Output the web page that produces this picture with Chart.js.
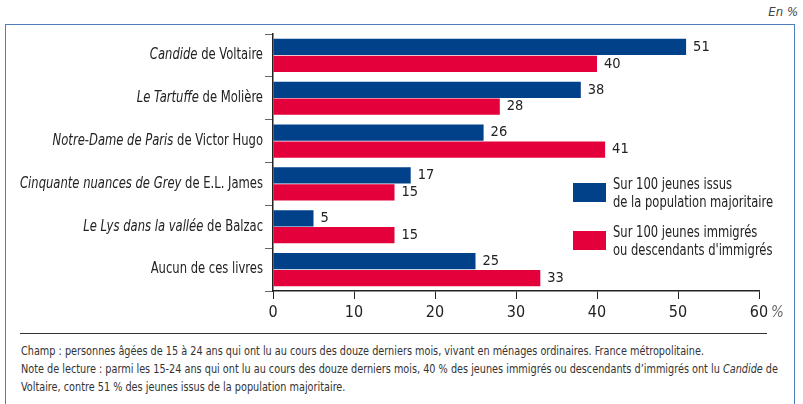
<!DOCTYPE html>
<html lang="fr">
<head>
<meta charset="utf-8">
<script src="https://cdn.jsdelivr.net/npm/chart.js@4/dist/chart.umd.min.js"></script>
<style>
    html, body { margin: 0; padding: 0; background: #fff; }
    body { width: 803px; height: 404px; position: relative; overflow: hidden;
           font-family: 'DejaVu Sans', sans-serif; font-stretch: condensed; color: #222; }
    .frame { position: absolute; left: 5px; top: 24px; width: 790px; height: 390px;
             border: 1.5px solid #4f7db8; box-sizing: border-box; }
    .unit { position: absolute; right: 5px; top: 4px; font-style: italic; font-size: 13px; color: #444; }
    .chart-box { position: absolute; left: 0; top: 0; width: 803px; height: 330px; }
    .sep { position: absolute; left: 20px; width: 747px; top: 333px; border-top: 1px solid #333; }
    .notes { position: absolute; left: 21px; top: 342px; font-size: 12.5px;
             line-height: 18px; color: #333; white-space: nowrap; transform-origin: 0 0; }
</style>
</head>
<body>
<div class="frame"></div>
<div class="unit">En %</div>
<div class="chart-box"><canvas id="chart"></canvas></div>
<div class="sep"></div>
<div class="notes" id="notes">
    <div>Champ : personnes âgées de 15 à 24 ans qui ont lu au cours des douze derniers mois, vivant en ménages ordinaires. France métropolitaine.</div>
    <div id="note2">Note de lecture : parmi les 15-24 ans qui ont lu au cours des douze derniers mois, 40 % des jeunes immigrés ou descendants d’immigrés ont lu <i>Candide</i> de</div>
    <div>Voltaire, contre 51 % des jeunes issus de la population majoritaire.</div>
</div>
<script>
    // Categories: italic title part + regular part
    const titles = ['Candide', 'Le Tartuffe', 'Notre-Dame de Paris', 'Cinquante nuances de Grey', 'Le Lys dans la vallée', ''];
    const authors = [' de Voltaire', ' de Molière', ' de Victor Hugo', ' de E.L. James', ' de Balzac', 'Aucun de ces livres'];
    const categories = titles.map((t, i) => t + authors[i]);

    const majoritaire = [51, 38, 26, 17, 5, 25];
    const immigres = [40, 28, 41, 15, 15, 33];

    const seriesLabels = [
        ['Sur 100 jeunes issus', 'de la population majoritaire'],
        ['Sur 100 jeunes immigrés', 'ou descendants d\'immigrés']
    ];
    const xTicks = [0, 10, 20, 30, 40, 50, 60];

    const BLUE = '#00418a';
    const RED = '#e4003a';
    const FONT = "'DejaVu Sans', sans-serif";

    // squeeze the footnote so that its second line ends like the original
    const notes = document.getElementById('notes');
    const w2 = document.getElementById('note2').getBoundingClientRect().width;
    notes.style.transform = 'scaleX(' + (757 / w2) + ')';

    function setFont(ctx, size, italic) {
        ctx.font = (italic ? 'italic ' : '') + size + 'px ' + FONT;
        ctx.fontStretch = 'condensed';
    }

    // Category labels with an italic title part, squeezed to the original width
    const categoryLabels = {
        id: 'categoryLabels',
        afterDraw(chart) {
            const ctx = chart.ctx;
            const yScale = chart.scales.y;
            const size = 15;
            const widthOf = (i) => {
                setFont(ctx, size, true);
                const a = titles[i] ? ctx.measureText(titles[i]).width : 0;
                setFont(ctx, size, false);
                return a + ctx.measureText(authors[i]).width;
            };
            const k = 243 / widthOf(3);
            ctx.save();
            ctx.fillStyle = '#222';
            ctx.textBaseline = 'middle';
            ctx.textAlign = 'right';
            categories.forEach((c, i) => {
                const y = yScale.getPixelForTick(i);
                ctx.save();
                ctx.translate(263, y);
                ctx.scale(k, 1);
                setFont(ctx, size, false);
                const wRest = ctx.measureText(authors[i]).width;
                ctx.fillText(authors[i], 0, 0);
                if (titles[i]) {
                    setFont(ctx, size, true);
                    ctx.fillText(titles[i], -wRest, 0);
                }
                ctx.restore();
            });
            ctx.restore();
        }
    };

    // Value labels after each bar
    const valueLabels = {
        id: 'valueLabels',
        afterDatasetsDraw(chart) {
            const ctx = chart.ctx;
            ctx.save();
            setFont(ctx, 14.5, false);
            ctx.fillStyle = '#222';
            ctx.textAlign = 'left';
            ctx.textBaseline = 'middle';
            chart.data.datasets.forEach((ds, di) => {
                chart.getDatasetMeta(di).data.forEach((bar, i) => {
                    ctx.fillText(String(ds.data[i]), bar.x + 7, bar.y);
                });
            });
            ctx.restore();
        }
    };

    // Legend with two-line labels, x tick labels and "%" after the last one
    const sideLegend = {
        id: 'sideLegend',
        afterDraw(chart) {
            const ctx = chart.ctx;
            ctx.save();
            setFont(ctx, 15, false);
            const k = 160 / ctx.measureText(seriesLabels[0][1]).width;
            const boxes = [183, 231];
            chart.data.datasets.forEach((ds, di) => {
                const top = boxes[di];
                ctx.fillStyle = ds.backgroundColor;
                ctx.fillRect(573, top, 33, 19);
                ctx.fillStyle = '#222';
                ctx.textAlign = 'left';
                ctx.textBaseline = 'middle';
                seriesLabels[di].forEach((line, li) => {
                    ctx.save();
                    ctx.translate(613, top + 2 + li * 18);
                    ctx.scale(k, 1);
                    ctx.fillText(line, 0, 0);
                    ctx.restore();
                });
            });
            const xs = chart.scales.x;
            ctx.fillStyle = '#222';
            ctx.textAlign = 'center';
            setFont(ctx, 16, false);
            xTicks.forEach(v => ctx.fillText(String(v), xs.getPixelForValue(v), 313));
            setFont(ctx, 15, true);
            ctx.fillStyle = '#666';
            ctx.textAlign = 'left';
            ctx.fillText('%', xs.getPixelForValue(60) + 12, 313);
            ctx.restore();
        }
    };

    new Chart(document.getElementById('chart'), {
        type: 'bar',
        data: {
            labels: categories,
            datasets: [
                { label: seriesLabels[0].join(' '), data: majoritaire, backgroundColor: BLUE },
                { label: seriesLabels[1].join(' '), data: immigres, backgroundColor: RED }
            ]
        },
        options: {
            indexAxis: 'y',
            responsive: true,
            maintainAspectRatio: false,
            animation: false,
            categoryPercentage: 0.79,
            barPercentage: 0.96,
            layout: { padding: { top: 34, right: 44, left: 0, bottom: 0 } },
            plugins: {
                legend: { display: false },
                tooltip: { enabled: false }
            },
            scales: {
                x: {
                    min: 0, max: 60,
                    afterFit(scale) { scale.height = 39; },
                    afterBuildTicks(scale) { scale.ticks = xTicks.map(v => ({ value: v })); },
                    grid: { drawOnChartArea: false, tickLength: 8, color: '#222' },
                    border: { color: '#222', width: 1.5 },
                    ticks: { display: false }
                },
                y: {
                    afterFit(scale) { scale.width = 273; },
                    grid: { drawOnChartArea: false, tickLength: 8, color: '#666', offset: true },
                    border: { color: '#222', width: 1.5 },
                    ticks: { display: false }
                }
            }
        },
        plugins: [categoryLabels, valueLabels, sideLegend]
    });
</script>
</body>
</html>
